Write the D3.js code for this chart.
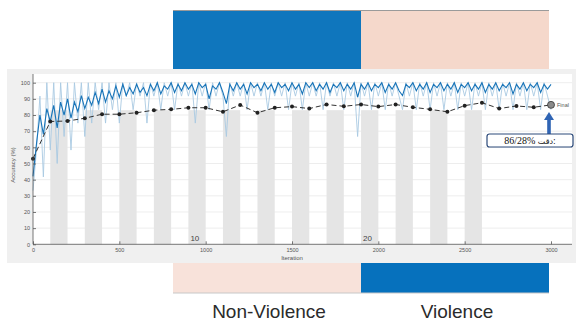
<!DOCTYPE html>
<html>
<head>
<meta charset="utf-8">
<script src="https://cdn.jsdelivr.net/npm/d3@7"></script>
<style>
  body { margin: 0; background: #fff; }
  svg { display: block; font-family: "Liberation Sans", Arial, sans-serif; }
</style>
</head>
<body>
<div id="chart"></div>
<script>
// classes shown on the blocks behind the plot
const classes = ["Non-Violence", "Violence"];
const topColors = ["#0f76bd", "#f5d8cb"];
const bottomColors = ["#f8e2da", "#0671bd"];

// validation, every 100 iterations
const valIters = d3.range(0, 3001, 100);
const valAcc = [53, 76, 76.3, 78, 80.5, 80.5, 81.4, 83, 83.5, 84.5,
  84.5, 82, 86.2, 81.4, 84.5, 85.2, 84, 86.5, 85.4, 86.5,
  85.2, 86.5, 84.8, 83.5, 82, 85.8, 87.6, 84, 85.6, 84.8, 86.28];

// training accuracy, read every 20 iterations
const trainIters = d3.range(0, 3001, 20);
const trainSmooth = [
  42, 62, 80, 68, 84,   76, 86, 72, 88, 80,   90, 78, 88, 82, 92,
  84, 91, 86, 94, 87,   96, 88, 95, 90, 98,   91, 99, 92, 97, 93,
  99, 94, 97, 92, 99,   95, 100, 93, 98, 96,  100, 94, 99, 95, 100,
  96, 99, 93, 100, 97,  99, 90, 98, 96, 100,  94, 87, 99, 95, 100,
  96, 99, 93, 100, 97,  99, 95, 100, 96, 99,  94, 100, 97, 99, 95,
  100, 96, 99, 93, 100, 97, 100, 95, 99, 96,  100, 94, 99, 97, 100,
  95, 99, 96, 100, 91,  99, 96, 100, 95, 99,  97, 100, 94, 99, 96,
  100, 95, 92, 99, 97,  100, 95, 99, 96, 100, 94, 99, 97, 100, 95,
  99, 96, 100, 94, 99,  97, 100, 95, 99, 96,  100, 94, 99, 96, 100,
  95, 99, 97, 100, 93,  99, 96, 100, 95, 99,  97, 100, 94, 99, 96,
  99];
const trainRaw = [
  33.3, 58.3, 91.7, 41.7, 100,  58.3, 100, 50, 100, 66.7,  100, 58.3, 100, 75, 100,
  66.7, 100, 75, 100, 83.3,  100, 75, 100, 83.3, 100,  75, 100, 91.7, 100, 83.3,
  100, 91.7, 100, 75, 100,  91.7, 100, 83.3, 100, 91.7,  100, 83.3, 100, 91.7, 100,
  91.7, 100, 75, 100, 91.7,  100, 83.3, 100, 91.7, 100,  91.7, 66.7, 100, 91.7, 100,
  91.7, 100, 83.3, 100, 91.7,  100, 91.7, 100, 83.3, 100,  91.7, 100, 91.7, 100, 83.3,
  100, 91.7, 100, 83.3, 100,  91.7, 100, 91.7, 100, 83.3,  100, 91.7, 100, 91.7, 100,
  83.3, 100, 91.7, 100, 66.7,  100, 91.7, 100, 83.3, 100,  91.7, 100, 83.3, 100, 91.7,
  100, 91.7, 83.3, 100, 91.7,  100, 83.3, 100, 91.7, 100,  83.3, 100, 91.7, 100, 83.3,
  100, 91.7, 100, 83.3, 100,  91.7, 100, 83.3, 100, 91.7,  100, 83.3, 100, 91.7, 100,
  83.3, 100, 91.7, 100, 83.3,  100, 91.7, 100, 83.3, 100,  91.7, 100, 83.3, 100, 91.7,
  83.3];

// shaded epochs and labelled epochs
const itersPerEpoch = 100;
const shadedEpochs = [2, 4, 6, 8, 10, 12, 14, 16, 18, 20, 22, 24, 26];
const epochLabels = [10, 20];

const yTicks = d3.range(0, 101, 10);
const xTicks = [0, 500, 1000, 1500, 2000, 2500, 3000];
const finalValue = "86/28%";
const finalWord = "دقت:";

const width = 576, height = 323;
const svg = d3.select("#chart").append("svg")
  .attr("width", width).attr("height", height);

// blocks behind the panel
const blockX = d3.scaleBand().domain(classes).range([173, 549]);
svg.selectAll("rect.top").data(classes).enter().append("rect")
  .attr("x", d => blockX(d)).attr("y", 10)
  .attr("width", blockX.bandwidth()).attr("height", 62)
  .attr("fill", (d, i) => topColors[i]);
svg.append("line").attr("x1", 173).attr("x2", 549).attr("y1", 10.5).attr("y2", 10.5)
  .attr("stroke", "#9a9a9a").attr("stroke-width", 1);
svg.selectAll("rect.bottom").data(classes).enter().append("rect")
  .attr("x", d => blockX(d)).attr("y", 260)
  .attr("width", blockX.bandwidth()).attr("height", 33)
  .attr("fill", (d, i) => bottomColors[i]);
svg.append("line").attr("x1", 173).attr("x2", 549).attr("y1", 293).attr("y2", 293)
  .attr("stroke", "#c8c8c8");
svg.selectAll("text.cls").data(classes).enter().append("text")
  .attr("x", d => blockX(d) + blockX.bandwidth() / 2 + 2).attr("y", 318)
  .attr("text-anchor", "middle").attr("font-size", 19).attr("fill", "#2b2b2b")
  .text(d => d);

// panel
svg.append("rect").attr("x", 7).attr("y", 69).attr("width", 569).attr("height", 194)
  .attr("fill", "#f0f0f0");

const x = d3.scaleLinear().domain([0, 3000]).range([33, 551]);
const y = d3.scaleLinear().domain([0, 100]).range([244.3, 82.7]);

svg.append("rect").attr("x", 33).attr("y", 74).attr("width", 539).attr("height", 170.3)
  .attr("fill", "#ffffff");

// gridlines
svg.append("g").selectAll("line").data(yTicks.slice(1)).enter().append("line")
  .attr("x1", 33).attr("x2", 572)
  .attr("y1", d => y(d)).attr("y2", d => y(d))
  .attr("stroke", "#e8e8e8").attr("stroke-width", 0.8);

// epoch bands
svg.append("g").selectAll("rect").data(shadedEpochs).enter().append("rect")
  .attr("x", d => x((d - 1) * itersPerEpoch))
  .attr("width", x(itersPerEpoch) - x(0))
  .attr("y", y(83)).attr("height", y(0) - y(83))
  .attr("fill", "#e5e5e5");
svg.append("g").selectAll("text").data(epochLabels).enter().append("text")
  .attr("x", d => x((d - 1) * itersPerEpoch) + 2).attr("y", 241)
  .attr("font-size", 8).attr("fill", "#444").text(d => d);

// raw training accuracy
svg.append("path").datum(trainRaw)
  .attr("d", d3.line().x((d, i) => x(trainIters[i])).y(d => y(d)))
  .attr("fill", "none").attr("stroke", "#a9c9e2").attr("stroke-width", 0.9);

// smoothed training accuracy
svg.append("path").datum(trainSmooth)
  .attr("d", d3.line().x((d, i) => x(trainIters[i])).y(d => y(d)))
  .attr("fill", "none").attr("stroke", "#1874b8").attr("stroke-width", 1.1);

// validation
svg.append("path").datum(valAcc)
  .attr("d", d3.line().x((d, i) => x(valIters[i])).y(d => y(d)))
  .attr("fill", "none").attr("stroke", "#333").attr("stroke-width", 1)
  .attr("stroke-dasharray", "5,3");
svg.append("g").selectAll("circle").data(valAcc.slice(0, -1)).enter().append("circle")
  .attr("cx", (d, i) => x(valIters[i])).attr("cy", d => y(d))
  .attr("r", 2).attr("fill", "#222");
const last = valAcc.length - 1;
svg.append("circle").attr("cx", x(valIters[last])).attr("cy", y(valAcc[last]))
  .attr("r", 3.5).attr("fill", "#8a8a8a").attr("stroke", "#333").attr("stroke-width", 0.8);
svg.append("text").attr("x", x(valIters[last]) + 6).attr("y", y(valAcc[last]) + 2)
  .attr("font-size", 5.5).attr("fill", "#555").text("Final");

// axes
const yAxis = d3.axisLeft(y).tickValues(yTicks).tickSizeInner(-3).tickSizeOuter(0).tickPadding(3);
const xAxis = d3.axisBottom(x).tickValues(xTicks).tickFormat(d3.format("d"))
  .tickSizeInner(-3).tickSizeOuter(0).tickPadding(4);
const gy = svg.append("g").attr("transform", "translate(33,0)").call(yAxis);
const gx = svg.append("g").attr("transform", "translate(0,244.3)").call(xAxis);
[gx, gy].forEach(g => {
  g.selectAll("path,line").attr("stroke", "#555").attr("stroke-width", 0.8);
  g.selectAll("text").attr("font-size", 5.5).attr("fill", "#555");
});
gx.select(".domain").attr("d", "M33,0H572");
gy.select(".domain").attr("d", "M0,244.3V74");

svg.append("text").attr("x", 292).attr("y", 260)
  .attr("text-anchor", "middle").attr("font-size", 6).attr("fill", "#555").text("Iteration");
svg.append("text").attr("transform", "translate(15,165) rotate(-90)")
  .attr("text-anchor", "middle").attr("font-size", 6).attr("fill", "#555").text("Accuracy (%)");

// annotation arrow and box
const ax = x(valIters[last]) - 2;
svg.append("rect").attr("x", ax - 1.8).attr("y", 119).attr("width", 3.6).attr("height", 15)
  .attr("fill", "#2f64b4");
svg.append("path")
  .attr("d", `M${ax - 5},120 L${ax},112 L${ax + 5},120 Z`)
  .attr("fill", "#2f64b4");
svg.append("rect").attr("x", 487).attr("y", 134).attr("width", 86).attr("height", 13)
  .attr("rx", 2.5).attr("fill", "#fff").attr("stroke", "#2c4a7a").attr("stroke-width", 1.2);
const note = svg.append("text").attr("x", 530).attr("y", 144)
  .attr("text-anchor", "middle").attr("direction", "ltr")
  .attr("font-family", "'Liberation Serif', 'DejaVu Serif', serif")
  .attr("font-size", 10).attr("fill", "#111");
note.append("tspan").text(finalValue + " ");
note.append("tspan").attr("font-size", 8).attr("font-family", "'DejaVu Sans', sans-serif").text(finalWord);
</script>
</body>
</html>
